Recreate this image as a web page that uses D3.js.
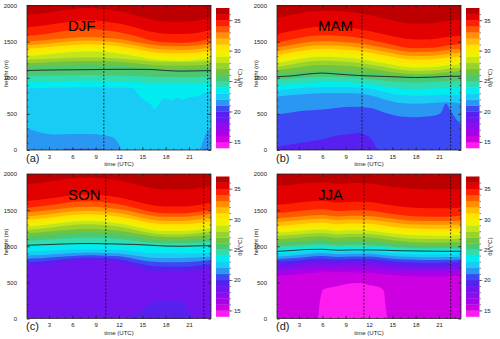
<!DOCTYPE html>
<html>
<head>
<meta charset="utf-8">
<script src="https://d3js.org/d3.v7.min.js"></script>
<style>
  body { margin: 0; background: #fff; }
  svg { display: block; font-family: "Liberation Sans", Arial, Helvetica, sans-serif; }
</style>
</head>
<body>
<div id="chart"></div>
<script>
// ---- data ----
// time grid (UTC hours) for the regular isolines
var hours = [0, 2, 4, 6, 8, 10, 12, 14, 16, 18, 20, 22, 24];

// colour levels of theta-e (degC) and their fill colours
var cbarLevels = [14, 15, 16, 17, 18, 19, 20, 21, 22, 23, 24, 25, 26, 27, 28, 29, 30, 31, 32, 33, 34, 35, 36, 37];
var cbarColors = ["#ff1cf0", "#cc00e0", "#a800e8", "#8c0cee", "#7214f0", "#5820ee", "#3c48f4", "#2a98f2",
                  "#18ccf6", "#00ecee", "#30dcb0", "#4cc870", "#70c440", "#98d22c", "#c4e41c", "#eef200",
                  "#ffe400", "#ffbe00", "#ff9000", "#ff5a00", "#ff2000", "#e20000", "#bc0000"];
var cbarTicks = [15, 20, 25, 30, 35];
var timeTicks = [3, 6, 9, 12, 15, 18, 21];
var heightTicks = [0, 500, 1000, 1500, 2000];

var seasons = ["DJF", "MAM", "SON", "JJA"];
var panelLetters = ["(a)", "(b)", "(c)", "(d)"];
// dashed lines (UTC hour)
var sunLines = [[10.05, 23.4], [11.1, 22.5], [10.3, 22.9], [11.35, 22.5]];

// black line (height, m) on the hours grid
var djfLine = [1100, 1105, 1108, 1110, 1112, 1115, 1117, 1117, 1115, 1100, 1092, 1095, 1100];
var mamLine = [1015, 1025, 1050, 1065, 1050, 1035, 1025, 1018, 1010, 1003, 1008, 1018, 1022];
var sonLine = [1013, 1020, 1028, 1035, 1038, 1035, 1030, 1025, 1015, 1003, 1000, 1005, 1008];
var jjaLine = [928, 940, 955, 958, 945, 950, 950, 945, 938, 935, 932, 930, 930];

// isoline heights (m): [level, heights on hours grid] or [level, [[hour, height], ...]]
var djfBase = 20;
var djfIso = [
  [21, [[0, 0], [4.6, 0], [5.2, 18], [9.6, 18], [10.2, 0], [24, 0]]],
  [22, [[0, 310], [1, 270], [2, 240], [4, 215], [6, 220], [8, 220], [10, 205], [11.3, 170], [12, 80], [12.4, 0], [22.3, 0], [22.8, 120], [23.3, 250], [24, 300]]],
  [23, [[0, 853], [2, 855], [4, 860], [6, 865], [8, 868], [10, 865], [12, 860], [13.8, 855], [14.5, 760], [15.2, 690], [16, 640], [16.6, 560], [17.2, 650], [18, 710], [18.8, 690], [19.5, 720], [20.3, 700], [21, 730], [22, 740], [23, 790], [24, 820]]],
  [24, [946, 949, 952, 956, 958, 956, 952, 945, 925, 915, 915, 925, 935]],
  [25, [1025, 1028, 1031, 1035, 1037, 1035, 1031, 1025, 1015, 1010, 1008, 1012, 1020]],
  [26, [1150, 1158, 1168, 1178, 1182, 1178, 1168, 1150, 1130, 1120, 1118, 1122, 1140]],
  [27, [1200, 1208, 1218, 1228, 1232, 1228, 1218, 1200, 1180, 1170, 1168, 1172, 1190]],
  [28, [1250, 1258, 1268, 1278, 1282, 1278, 1268, 1250, 1230, 1220, 1218, 1222, 1240]],
  [29, [1300, 1315, 1335, 1355, 1365, 1355, 1335, 1300, 1260, 1240, 1235, 1245, 1280]],
  [30, [1350, 1365, 1385, 1405, 1415, 1405, 1385, 1350, 1310, 1290, 1285, 1295, 1330]],
  [31, [1400, 1415, 1435, 1455, 1465, 1455, 1435, 1400, 1360, 1340, 1335, 1345, 1380]],
  [32, [1450, 1465, 1485, 1505, 1515, 1505, 1485, 1450, 1410, 1390, 1385, 1395, 1430]],
  [33, [1500, 1515, 1535, 1555, 1565, 1555, 1535, 1500, 1460, 1440, 1435, 1445, 1480]],
  [34, [1580, 1600, 1630, 1660, 1675, 1660, 1630, 1580, 1520, 1490, 1485, 1500, 1550]],
  [35, [1700, 1720, 1750, 1780, 1795, 1780, 1750, 1700, 1640, 1610, 1605, 1620, 1670]],
  [36, [1870, 1890, 1920, 1950, 1965, 1950, 1920, 1870, 1810, 1780, 1775, 1790, 1840]]
];

var mamBase = 19;
var mamIso = [
  [20, [[0, 46], [1, 60], [2, 80], [4, 110], [6, 150], [8, 200], [9, 215], [10, 230], [10.8, 240], [11.5, 210], [12.3, 150], [12.8, 60], [13.1, 0], [24, 0]]],
  [21, [[0, 485], [2, 520], [4, 545], [6, 560], [8, 585], [10, 600], [12, 585], [14, 520], [16, 465], [18, 455], [20, 470], [21.2, 510], [21.9, 645], [22.4, 560], [23.3, 415], [24, 340]]],
  [22, [738, 760, 775, 785, 790, 785, 760, 700, 650, 640, 650, 660, 640]],
  [23, [830, 845, 860, 870, 872, 868, 850, 800, 760, 750, 755, 765, 760]],
  [24, [900, 915, 930, 940, 940, 935, 915, 880, 850, 845, 850, 860, 860]],
  [25, [970, 990, 1005, 1015, 1010, 1000, 985, 960, 940, 935, 940, 950, 955]],
  [26, [1050, 1070, 1090, 1100, 1095, 1080, 1065, 1045, 1030, 1025, 1030, 1040, 1045]],
  [27, [1100, 1130, 1160, 1175, 1170, 1158, 1130, 1095, 1065, 1050, 1055, 1075, 1090]],
  [28, [1150, 1185, 1220, 1235, 1230, 1215, 1185, 1150, 1112, 1095, 1100, 1122, 1140]],
  [29, [1200, 1240, 1275, 1290, 1285, 1270, 1240, 1200, 1160, 1140, 1145, 1170, 1190]],
  [30, [1255, 1295, 1330, 1345, 1340, 1325, 1295, 1255, 1215, 1195, 1200, 1225, 1245]],
  [31, [1310, 1350, 1385, 1400, 1395, 1380, 1350, 1310, 1270, 1250, 1255, 1280, 1300]],
  [32, [1360, 1400, 1435, 1450, 1445, 1430, 1400, 1360, 1320, 1300, 1305, 1330, 1350]],
  [33, [1415, 1455, 1490, 1505, 1500, 1485, 1455, 1415, 1375, 1355, 1360, 1385, 1405]],
  [34, [1480, 1528, 1570, 1588, 1582, 1564, 1528, 1480, 1432, 1408, 1414, 1444, 1468]],
  [35, [1600, 1648, 1690, 1708, 1702, 1684, 1648, 1600, 1552, 1528, 1534, 1564, 1588]],
  [36, [1820, 1868, 1910, 1928, 1922, 1904, 1868, 1820, 1772, 1748, 1754, 1784, 1808]]
];

var sonBase = 18;
var sonIso = [
  [19, [731, 745, 770, 795, 805, 800, 780, 720, 660, 640, 640, 660, 705]],
  [20, [778, 790, 810, 830, 840, 835, 820, 775, 730, 715, 715, 730, 760]],
  [21, [825, 835, 850, 865, 875, 870, 860, 825, 790, 780, 780, 790, 810]],
  [22, [872, 880, 893, 905, 912, 908, 900, 872, 845, 838, 838, 845, 860]],
  [23, [928, 935, 945, 955, 960, 957, 950, 928, 905, 898, 897, 903, 915]],
  [24, [1013, 1018, 1025, 1032, 1036, 1033, 1028, 1015, 1000, 995, 993, 997, 1005]],
  [25, [1073, 1085, 1100, 1115, 1120, 1115, 1100, 1075, 1050, 1040, 1040, 1050, 1065]],
  [26, [1130, 1146, 1166, 1186, 1194, 1186, 1166, 1134, 1098, 1082, 1082, 1094, 1118]],
  [27, [1177, 1193, 1213, 1233, 1241, 1233, 1213, 1181, 1145, 1129, 1129, 1141, 1165]],
  [28, [1224, 1244, 1269, 1294, 1304, 1294, 1269, 1229, 1184, 1164, 1164, 1179, 1209]],
  [29, [1270, 1290, 1315, 1340, 1350, 1340, 1315, 1275, 1230, 1210, 1210, 1225, 1255]],
  [30, [1317, 1337, 1362, 1387, 1397, 1387, 1362, 1322, 1277, 1257, 1257, 1272, 1302]],
  [31, [1364, 1384, 1409, 1434, 1444, 1434, 1409, 1369, 1324, 1304, 1304, 1319, 1349]],
  [32, [1411, 1431, 1456, 1481, 1491, 1481, 1456, 1416, 1371, 1351, 1351, 1366, 1396]],
  [33, [1467, 1487, 1512, 1537, 1547, 1537, 1512, 1472, 1427, 1407, 1407, 1422, 1452]],
  [34, [1528, 1552, 1582, 1612, 1624, 1612, 1582, 1534, 1480, 1456, 1456, 1474, 1510]],
  [35, [1622, 1646, 1676, 1706, 1718, 1706, 1676, 1628, 1574, 1550, 1550, 1568, 1604]],
  [36, [1856, 1880, 1910, 1940, 1952, 1940, 1910, 1862, 1808, 1784, 1784, 1802, 1838]]
];
// warmer patch near the ground (filled from the surface up)
var sonGround = [19, [[13.3, 0], [14.5, 80], [15.5, 170], [16.5, 230], [17.5, 245], [19, 240], [20.3, 230], [20.8, 150], [21.3, 40], [21.6, 0]]];

var jjaBase = 14;
var jjaIso = [
  [15, [[0, 0], [5.4, 0], [5.7, 250], [6.1, 400], [7, 430], [8, 450], [9.5, 485], [11, 490], [12, 460], [13.2, 440], [13.9, 380], [14.2, 120], [14.4, 0], [24, 0]]],
  [16, [590, 605, 625, 640, 640, 640, 632, 612, 592, 585, 582, 585, 588]],
  [17, [652, 667, 687, 700, 695, 695, 690, 670, 652, 645, 642, 645, 650]],
  [18, [698, 712, 732, 745, 738, 740, 738, 718, 700, 692, 690, 692, 697]],
  [19, [745, 758, 778, 790, 780, 785, 785, 765, 745, 738, 735, 738, 743]],
  [20, [783, 796, 815, 828, 815, 822, 822, 802, 783, 776, 773, 776, 781]],
  [21, [820, 833, 852, 864, 850, 858, 858, 838, 820, 813, 810, 813, 818]],
  [22, [858, 870, 890, 902, 888, 895, 895, 876, 858, 851, 848, 851, 856]],
  [23, [895, 908, 927, 938, 922, 930, 930, 912, 895, 888, 885, 888, 893]],
  [24, [961, 972, 990, 995, 980, 985, 985, 975, 965, 960, 958, 958, 960]],
  [25, [998, 1008, 1022, 1028, 1012, 1020, 1018, 1000, 985, 976, 973, 973, 978]],
  [26, [1045, 1058, 1075, 1083, 1065, 1075, 1072, 1050, 1030, 1020, 1016, 1016, 1023]],
  [27, [1092, 1107, 1127, 1137, 1117, 1127, 1122, 1097, 1072, 1057, 1052, 1052, 1062]],
  [28, [1139, 1154, 1174, 1184, 1164, 1174, 1169, 1144, 1119, 1104, 1099, 1099, 1109]],
  [29, [1186, 1201, 1221, 1231, 1211, 1221, 1216, 1191, 1166, 1151, 1146, 1146, 1156]],
  [30, [1233, 1248, 1268, 1278, 1258, 1268, 1263, 1238, 1213, 1198, 1193, 1193, 1203]],
  [31, [1280, 1295, 1315, 1325, 1305, 1315, 1310, 1285, 1260, 1245, 1240, 1240, 1250]],
  [32, [1336, 1351, 1371, 1381, 1361, 1371, 1366, 1341, 1316, 1301, 1296, 1296, 1306]],
  [33, [1388, 1403, 1423, 1433, 1413, 1423, 1418, 1393, 1368, 1353, 1348, 1348, 1358]],
  [34, [1458, 1476, 1500, 1512, 1488, 1500, 1494, 1464, 1434, 1416, 1410, 1410, 1422]],
  [35, [1575, 1593, 1617, 1629, 1605, 1617, 1611, 1581, 1551, 1533, 1527, 1527, 1539]],
  [36, [1833, 1851, 1875, 1887, 1863, 1875, 1869, 1839, 1809, 1791, 1785, 1785, 1797]]
];

var panels = [
  {base: djfBase, iso: djfIso, line: djfLine, ground: null, dx: 0, dy: 0},
  {base: mamBase, iso: mamIso, line: mamLine, ground: null, dx: 250, dy: 0},
  {base: sonBase, iso: sonIso, line: sonLine, ground: sonGround, dx: 0, dy: 168.5},
  {base: jjaBase, iso: jjaIso, line: jjaLine, ground: null, dx: 250, dy: 168.5}
];

// ---- layout ----
var svg = d3.select("#chart").append("svg").attr("width", 500).attr("height", 339);

var x = d3.scaleLinear().domain([0.17, 23.83]).range([27, 211]);
var y = d3.scaleLinear().domain([0, 2000]).range([150, 5.5]);
var cb = d3.scaleLinear().domain([14, 37]).range([148, 8]);
var color = d3.scaleOrdinal().domain(cbarLevels.slice(0, -1)).range(cbarColors);

function toPoints(vals) {
  return Array.isArray(vals[0]) ? vals : vals.map(function(h, i) { return [hours[i], h]; });
}

var areaAbove = d3.area()
  .x(function(d) { return x(d[0]); })
  .y0(y(2000) - 2)
  .y1(function(d) { return y(d[1]); })
  .curve(d3.curveMonotoneX);
var areaBelow = d3.area()
  .x(function(d) { return x(d[0]); })
  .y0(y(0) + 2)
  .y1(function(d) { return y(d[1]); })
  .curve(d3.curveMonotoneX);
var lineGen = d3.line()
  .x(function(d) { return x(d[0]); })
  .y(function(d) { return y(d[1]); })
  .curve(d3.curveMonotoneX);

panels.forEach(function(p, i) {
  var g = svg.append("g").attr("transform", "translate(" + p.dx + "," + p.dy + ")");

  g.append("clipPath").attr("id", "clip" + i)
    .append("rect")
    .attr("x", x.range()[0]).attr("y", y(2000))
    .attr("width", x.range()[1] - x.range()[0]).attr("height", y(0) - y(2000));

  var field = g.append("g").attr("clip-path", "url(#clip" + i + ")");
  field.append("rect")
    .attr("x", x.range()[0]).attr("y", y(2000))
    .attr("width", x.range()[1] - x.range()[0]).attr("height", y(0) - y(2000))
    .attr("fill", color(p.base));

  // paint each level above its isoline, coldest first
  p.iso.forEach(function(d) {
    field.append("path")
      .attr("d", areaAbove(toPoints(d[1])))
      .attr("fill", color(d[0]));
  });
  if (p.ground) {
    field.append("path")
      .attr("d", areaBelow(toPoints(p.ground[1])))
      .attr("fill", color(p.ground[0]));
  }

  field.append("path")
    .attr("d", lineGen(toPoints(p.line)))
    .attr("fill", "none").attr("stroke", "#222").attr("stroke-width", 0.9);

  sunLines[i].forEach(function(t) {
    field.append("line")
      .attr("x1", x(t)).attr("x2", x(t))
      .attr("y1", y(0)).attr("y2", y(2000))
      .attr("stroke", "#111").attr("stroke-width", 0.8)
      .attr("stroke-dasharray", "2,1.5");
  });

  // axes, ticks pointing inwards on all four sides
  var minorHours = d3.range(1, 24);
  var minorHeights = d3.range(0, 2001, 100);
  g.append("g").attr("transform", "translate(0," + y(0) + ")")
    .call(d3.axisBottom(x).tickValues(minorHours).tickSize(-1.5).tickFormat(""));
  g.append("g").attr("transform", "translate(0," + y(0) + ")")
    .call(d3.axisBottom(x).tickValues(timeTicks).tickSize(-3).tickPadding(4.5))
    .attr("class", "ax");
  g.append("g").attr("transform", "translate(0," + y(2000) + ")")
    .call(d3.axisTop(x).tickValues(minorHours).tickSize(-1.5).tickFormat(""));
  g.append("g").attr("transform", "translate(0," + y(2000) + ")")
    .call(d3.axisTop(x).tickValues(timeTicks).tickSize(-3).tickFormat(""));
  g.append("g").attr("transform", "translate(" + x.range()[0] + ",0)")
    .call(d3.axisLeft(y).tickValues(minorHeights).tickSize(-1.5).tickFormat(""));
  g.append("g").attr("transform", "translate(" + x.range()[0] + ",0)")
    .call(d3.axisLeft(y).tickValues(heightTicks).tickSize(-3).tickPadding(10).tickFormat(d3.format("d")))
    .attr("class", "ax");
  g.append("g").attr("transform", "translate(" + x.range()[1] + ",0)")
    .call(d3.axisRight(y).tickValues(minorHeights).tickSize(-1.5).tickFormat(""));
  g.append("g").attr("transform", "translate(" + x.range()[1] + ",0)")
    .call(d3.axisRight(y).tickValues(heightTicks).tickSize(-3).tickFormat(""));

  g.selectAll(".domain").remove();
  g.selectAll(".tick line").attr("stroke", "#222").attr("stroke-width", 0.6);
  g.selectAll(".ax text").attr("font-size", 6).attr("fill", "#222").attr("font-family", null);

  g.append("rect")
    .attr("x", x.range()[0]).attr("y", y(2000))
    .attr("width", x.range()[1] - x.range()[0]).attr("height", y(0) - y(2000))
    .attr("fill", "none").attr("stroke", "#222").attr("stroke-width", 0.8);

  // labels
  g.append("text").attr("x", 68).attr("y", 31)
    .attr("font-size", 15).attr("fill", "#000").text(seasons[i]);
  g.append("text").attr("x", 26).attr("y", 161.5)
    .attr("font-size", 11).attr("fill", "#222").text(panelLetters[i]);
  g.append("text").attr("x", 119).attr("y", 166)
    .attr("text-anchor", "middle").attr("font-size", 6).attr("fill", "#222").text("time (UTC)");
  g.append("text").attr("transform", "translate(8,73.5) rotate(-90)")
    .attr("text-anchor", "middle").attr("font-size", 6).attr("fill", "#222").text("height (m)");

  // colour bar
  var bar = g.append("g");
  bar.selectAll("rect").data(cbarLevels.slice(0, -1)).join("rect")
    .attr("x", 216).attr("width", 13.5)
    .attr("y", function(d) { return cb(d + 1); })
    .attr("height", function(d) { return cb(d) - cb(d + 1) + 0.3; })
    .attr("fill", function(d) { return color(d); });
  bar.append("g").attr("transform", "translate(229.5,0)")
    .call(d3.axisRight(cb).tickValues(cbarLevels.slice(1, -1)).tickSize(1.5).tickFormat(""));
  bar.append("g").attr("transform", "translate(229.5,0)").attr("class", "ax")
    .call(d3.axisRight(cb).tickValues(cbarTicks).tickSize(3).tickPadding(1.5));
  bar.selectAll(".domain").remove();
  bar.selectAll(".tick line").attr("stroke", "#333").attr("stroke-width", 0.6);
  bar.selectAll(".ax text").attr("font-size", 6).attr("fill", "#222").attr("font-family", null);
  var lab = bar.append("text").attr("transform", "translate(242,78) rotate(-90)")
    .attr("text-anchor", "middle").attr("font-size", 6).attr("fill", "#222");
  lab.append("tspan").text("\u03b8");
  lab.append("tspan").attr("font-size", 4.5).attr("dy", 1.2).text("e");
  lab.append("tspan").attr("dy", -1.2).text(" (\u00b0C)");
});
</script>
</body>
</html>
